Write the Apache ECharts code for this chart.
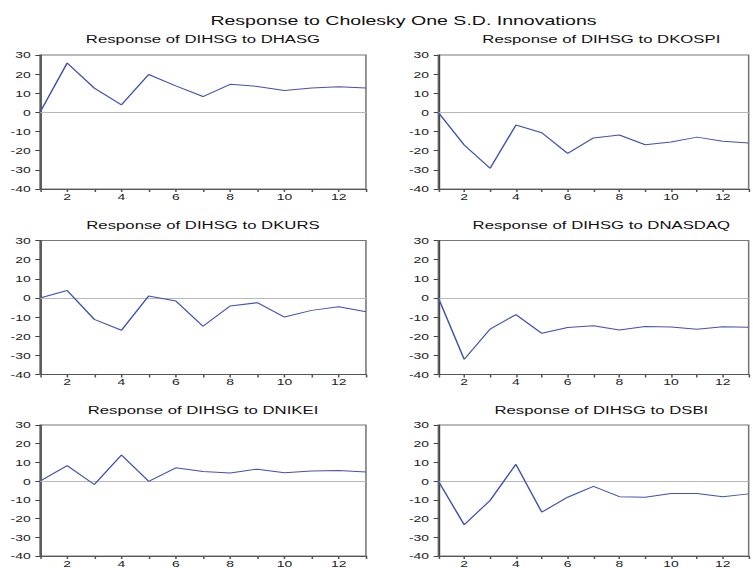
<!DOCTYPE html>
<html>
<head>
<meta charset="utf-8">
<script src="https://cdn.jsdelivr.net/npm/echarts@6/dist/echarts.min.js"></script>
<style>
html,body{margin:0;padding:0;background:#fff;overflow:hidden;}
#wrap{width:753px;height:568px;overflow:hidden;position:relative;}
#chart{width:486px;height:568px;transform:scaleX(1.55);transform-origin:0 0;}
</style>
</head>
<body>
<div id="wrap"><div id="chart"></div></div>
<script>
const mainTitle = 'Response to Cholesky One S.D. Innovations';
const panelTitles = [
  'Response of DIHSG to DHASG', 'Response of DIHSG to DKOSPI',
  'Response of DIHSG to DKURS', 'Response of DIHSG to DNASDAQ',
  'Response of DIHSG to DNIKEI', 'Response of DIHSG to DSBI'
];
const periods = [1, 2, 3, 4, 5, 6, 7, 8, 9, 10, 11, 12, 13];
const dhasg   = [0, 25.8, 12.7, 4.0, 19.8, 13.9, 8.3, 14.7, 13.6, 11.5, 12.7, 13.4, 12.7];
const dkospi  = [0, -17.0, -29.2, -6.6, -10.6, -21.4, -13.3, -11.8, -16.9, -15.5, -12.9, -15.1, -16.0];
const dkurs   = [0, 3.9, -11.2, -16.9, 1.0, -1.6, -14.8, -4.2, -2.5, -10.0, -6.5, -4.6, -7.2];
const dnasdaq = [0, -32.1, -16.3, -8.7, -18.5, -15.4, -14.5, -16.8, -14.9, -15.2, -16.3, -15.0, -15.3];
const dnikei  = [0, 8.3, -1.8, 14.0, -0.1, 7.1, 5.1, 4.4, 6.4, 4.5, 5.4, 5.7, 4.9];
const dsbi    = [0, -23.3, -10.3, 9.0, -16.6, -8.6, -2.8, -8.3, -8.6, -6.6, -6.6, -8.3, -6.8];
const seriesList = [dhasg, dkospi, dkurs, dnasdaq, dnikei, dsbi];
const yTicks = [-40, -30, -20, -10, 0, 10, 20, 30];

const chart = echarts.init(document.getElementById('chart'), null, {renderer: 'svg', width: 486, height: 568});

const colLeft = [25.8, 282.8];
const plotW = 210.3;
const rows = [{top: 55, h: 134, ty: 39.5}, {top: 240.5, h: 134, ty: 225}, {top: 425, h: 135.7, ty: 410}];
const FONT = '"Liberation Sans", Arial, sans-serif';

const grids = [], xAxes = [], yAxes = [], series = [], graphics = [];
graphics.push({type: 'text', x: 260.3, y: 20.5, style: {text: mainTitle, font: '12.6px ' + FONT, fill: '#111', textAlign: 'center', textVerticalAlign: 'middle'}});
for (let i = 0; i < 6; i++) {
  const r = rows[Math.floor(i / 2)], c = colLeft[i % 2];
  grids.push({left: c, top: r.top, width: plotW, height: r.h, show: true, borderColor: '#777', borderWidth: 1, backgroundColor: 'transparent'});
  xAxes.push({
    type: 'value', gridIndex: i, min: periods[0], max: periods[periods.length - 1], interval: 1,
    axisLine: {show: true, onZero: false, lineStyle: {color: '#555', width: 1}},
    axisTick: {show: true, inside: false, length: 3, lineStyle: {color: '#555'}},
    axisLabel: {fontSize: 9, fontFamily: FONT, color: '#222', margin: 3,
      formatter: v => (v % 2 === 0 ? String(v) : '')},
    splitLine: {show: false}
  });
  yAxes.push({
    type: 'value', gridIndex: i, min: yTicks[0], max: yTicks[yTicks.length - 1], interval: 10,
    axisLine: {show: true, onZero: false, lineStyle: {color: '#444', width: 1}},
    axisTick: {show: true, inside: false, length: 3, lineStyle: {color: '#444'}},
    axisLabel: {fontSize: 9, fontFamily: FONT, color: '#222', margin: 6},
    splitLine: {show: false}
  });
  series.push({
    type: 'line', xAxisIndex: i, yAxisIndex: i,
    data: periods.map((p, k) => [p, seriesList[i][k]]),
    showSymbol: false, symbol: 'none',
    lineStyle: {color: '#4252b0', width: 1},
    z: 3,
    markLine: {silent: true, symbol: 'none', label: {show: false},
      lineStyle: {color: '#b8b8b8', type: 'solid', width: 1}, data: [{yAxis: 0}], z: 1}
  });
  graphics.push({type: 'text', x: c + plotW / 2, y: r.ty,
    style: {text: panelTitles[i], font: '10.8px ' + FONT, fill: '#111', textAlign: 'center', textVerticalAlign: 'middle'}});
}

chart.setOption({
  animation: false,
  backgroundColor: '#fff',
  grid: grids, xAxis: xAxes, yAxis: yAxes, series: series,
  graphic: graphics
});
</script>
</body>
</html>
